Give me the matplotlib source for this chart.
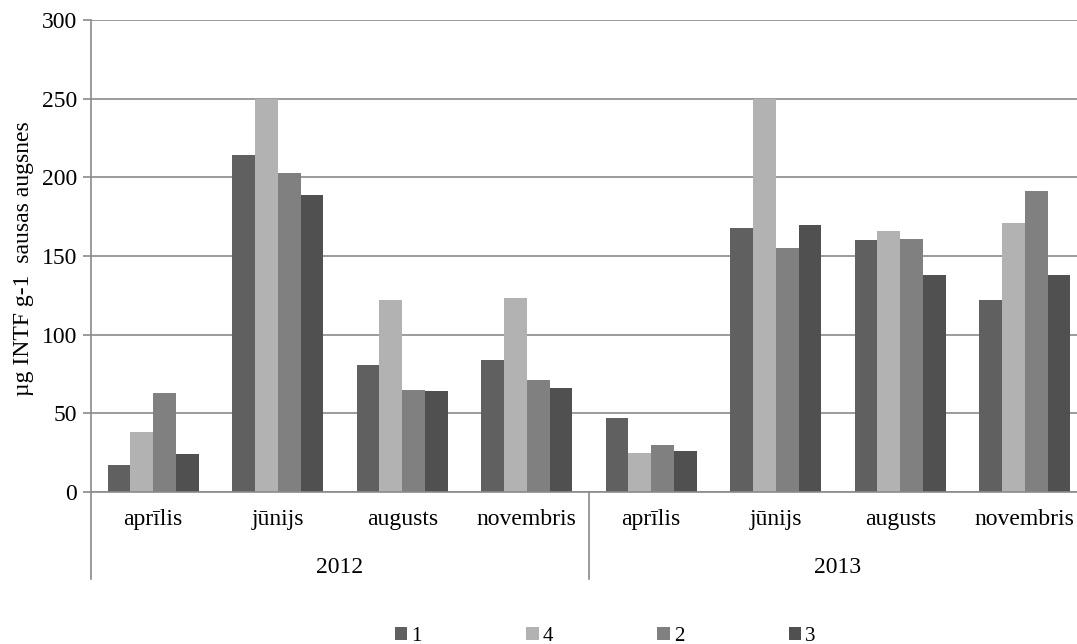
import numpy as np
import matplotlib
matplotlib.use("Agg")
import matplotlib.pyplot as plt
from matplotlib.patches import Patch

plt.rcParams['font.family'] = ['Liberation Serif', 'DejaVu Serif']

years = ["2012", "2013"]
months = ["aprīlis", "jūnijs", "augusts", "novembris"]
series_names = ["1", "4", "2", "3"]
series_colors = ["#606060", "#b2b2b2", "#808080", "#505050"]

# one value per (year, month), in order 2012 apr..nov, 2013 apr..nov
s1 = [17, 214, 81, 84, 47, 168, 160, 122]
s4 = [38, 250, 122, 123, 25, 250, 166, 171]
s2 = [63, 203, 65, 71, 30, 155, 161, 191]
s3 = [24, 189, 64, 66, 26, 170, 138, 138]
values = [s1, s4, s2, s3]

n_cat = len(years) * len(months)
x = np.arange(n_cat) + 0.5
bw = 0.183

fig = plt.figure(figsize=(10.77, 6.44), dpi=100)
ax = fig.add_axes([91 / 1077, 152 / 644, 996 / 1077, 472 / 644])

for i, (vals, col) in enumerate(zip(values, series_colors)):
    ax.bar(x + (i - 1.5) * bw, vals, width=bw, color=col, zorder=2)

ax.set_xlim(0, n_cat)
ax.set_ylim(0, 300)
ax.set_yticks(np.arange(0, 301, 50))
ax.yaxis.grid(True, color="#8a8a8a", linewidth=1.2)
ax.set_axisbelow(True)

for side in ["top", "right"]:
    ax.spines[side].set_visible(False)
for side in ["left", "bottom"]:
    ax.spines[side].set_color("#8a8a8a")
    ax.spines[side].set_linewidth(1.2)

ax.tick_params(axis="y", length=6, width=1.2, color="#8a8a8a", labelsize=17, pad=4)
ax.set_xticks(x)
ax.set_xticklabels(months * len(years), fontsize=17)
ax.tick_params(axis="x", length=0, pad=12)

# year labels and group separators under the month labels
trans = matplotlib.transforms.blended_transform_factory(ax.transData, ax.transAxes)
for k, yr in enumerate(years):
    mid = k * len(months) + len(months) / 2
    ax.text(mid, -0.159, yr, transform=trans, ha="center", va="center", fontsize=17)
for b in range(len(years) + 1):
    ax.plot([b * len(months)] * 2, [0, -0.184], transform=trans,
            color="#8a8a8a", linewidth=1.2, clip_on=False)

fig.text(24 / 1077, 1 - 259 / 644, "µg INTF g-1  sausas augsnes", rotation=90,
         ha="center", va="center", fontsize=17)

handles = [Patch(facecolor=c) for c in series_colors]
fig.legend(handles, series_names, loc="center", bbox_to_anchor=(0.562, 0.012),
           ncol=4, frameon=False, fontsize=15, handlelength=0.6, handleheight=0.6,
           handletextpad=0.2, columnspacing=5.0)

fig.savefig("out.png", dpi=100)
